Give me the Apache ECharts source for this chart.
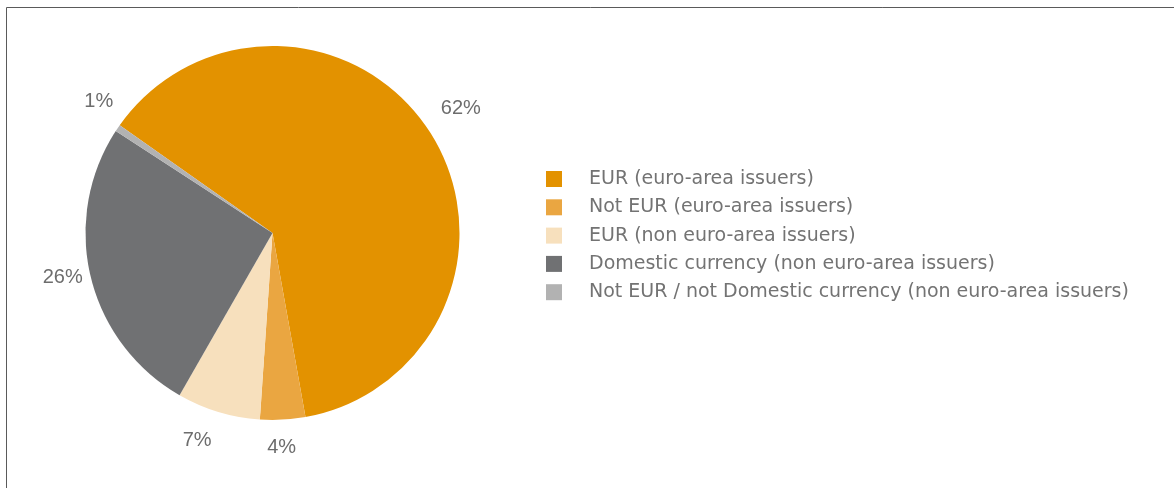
<!DOCTYPE html>
<html>
<head>
<meta charset="utf-8">
<script src="https://cdn.jsdelivr.net/npm/echarts@6/dist/echarts.min.js"></script>
<style>
  html, body { margin: 0; padding: 0; background: #fff; }
  #chart { width: 1174px; height: 488px; }
</style>
</head>
<body>
<div id="chart"></div>
<script>
// currency breakdown, shares in %
const categories = [
  'EUR (euro-area issuers)',
  'Not EUR (euro-area issuers)',
  'EUR (non euro-area issuers)',
  'Domestic currency (non euro-area issuers)',
  'Not EUR / not Domestic currency (non euro-area issuers)'
]
const shares = [62.4, 3.9, 7.2, 25.9, 0.6]

const sliceColors = ['#E39200', '#EAA641', '#F7E0BD', '#707173', '#B2B2B2']
const center = [272.5, 233]
const startAngle = 144.8
// small nudges so the percent labels sit like the original
const labelNudge = [[1, -5], [-3, -7], [-11, -5], [6, -8], [10, -7]]

const chart = echarts.init(document.getElementById('chart'))

const pieData = categories.map((name, i) => ({
  name: name,
  value: shares[i],
  itemStyle: { color: sliceColors[i] }
}))

chart.setOption({
  animation: false,
  graphic: [
    {
      type: 'rect',
      shape: { x: 6.5, y: 7.5, width: 1300, height: 600 },
      style: { fill: 'none', stroke: '#5a5a5a', lineWidth: 1 },
      silent: true
    }
  ],
  legend: {
    orient: 'vertical',
    left: 546,
    top: 169.5,
    padding: 0,
    selectedMode: false,
    itemWidth: 16,
    itemHeight: 16,
    itemGap: 9.3,
    icon: 'rect',
    data: categories,
    textStyle: {
      fontFamily: 'DejaVu Sans, Verdana, sans-serif',
      fontSize: 19,
      lineHeight: 19,
      color: '#737373',
      padding: [0, 0, 0, 22]
    }
  },
  series: [
    {
      type: 'pie',
      center: center,
      radius: [0, 187],
      startAngle: startAngle,
      clockwise: true,
      silent: true,
      itemStyle: { borderWidth: 0 },
      label: { show: false },
      labelLine: { show: false },
      emphasis: { disabled: true },
      data: pieData
    },
    {
      // invisible ring only used to place the percentage labels
      type: 'pie',
      center: center,
      radius: [204, 234],
      startAngle: startAngle,
      clockwise: true,
      silent: true,
      percentPrecision: 0,
      itemStyle: { color: '#fff', opacity: 0, borderWidth: 0 },
      emphasis: { disabled: true },
      labelLine: { show: false },
      label: {
        show: true,
        opacity: 1,
        position: 'inside',
        formatter: '{d}%',
        fontFamily: 'Liberation Sans, Arial, sans-serif',
        fontSize: 20,
        color: '#6D6D6D'
      },
      labelLayout: function (params) {
        const n = labelNudge[params.dataIndex]
        return { dx: n[0], dy: n[1] }
      },
      data: categories.map((name, i) => ({ name: name, value: shares[i] }))
    }
  ]
})
</script>
</body>
</html>
